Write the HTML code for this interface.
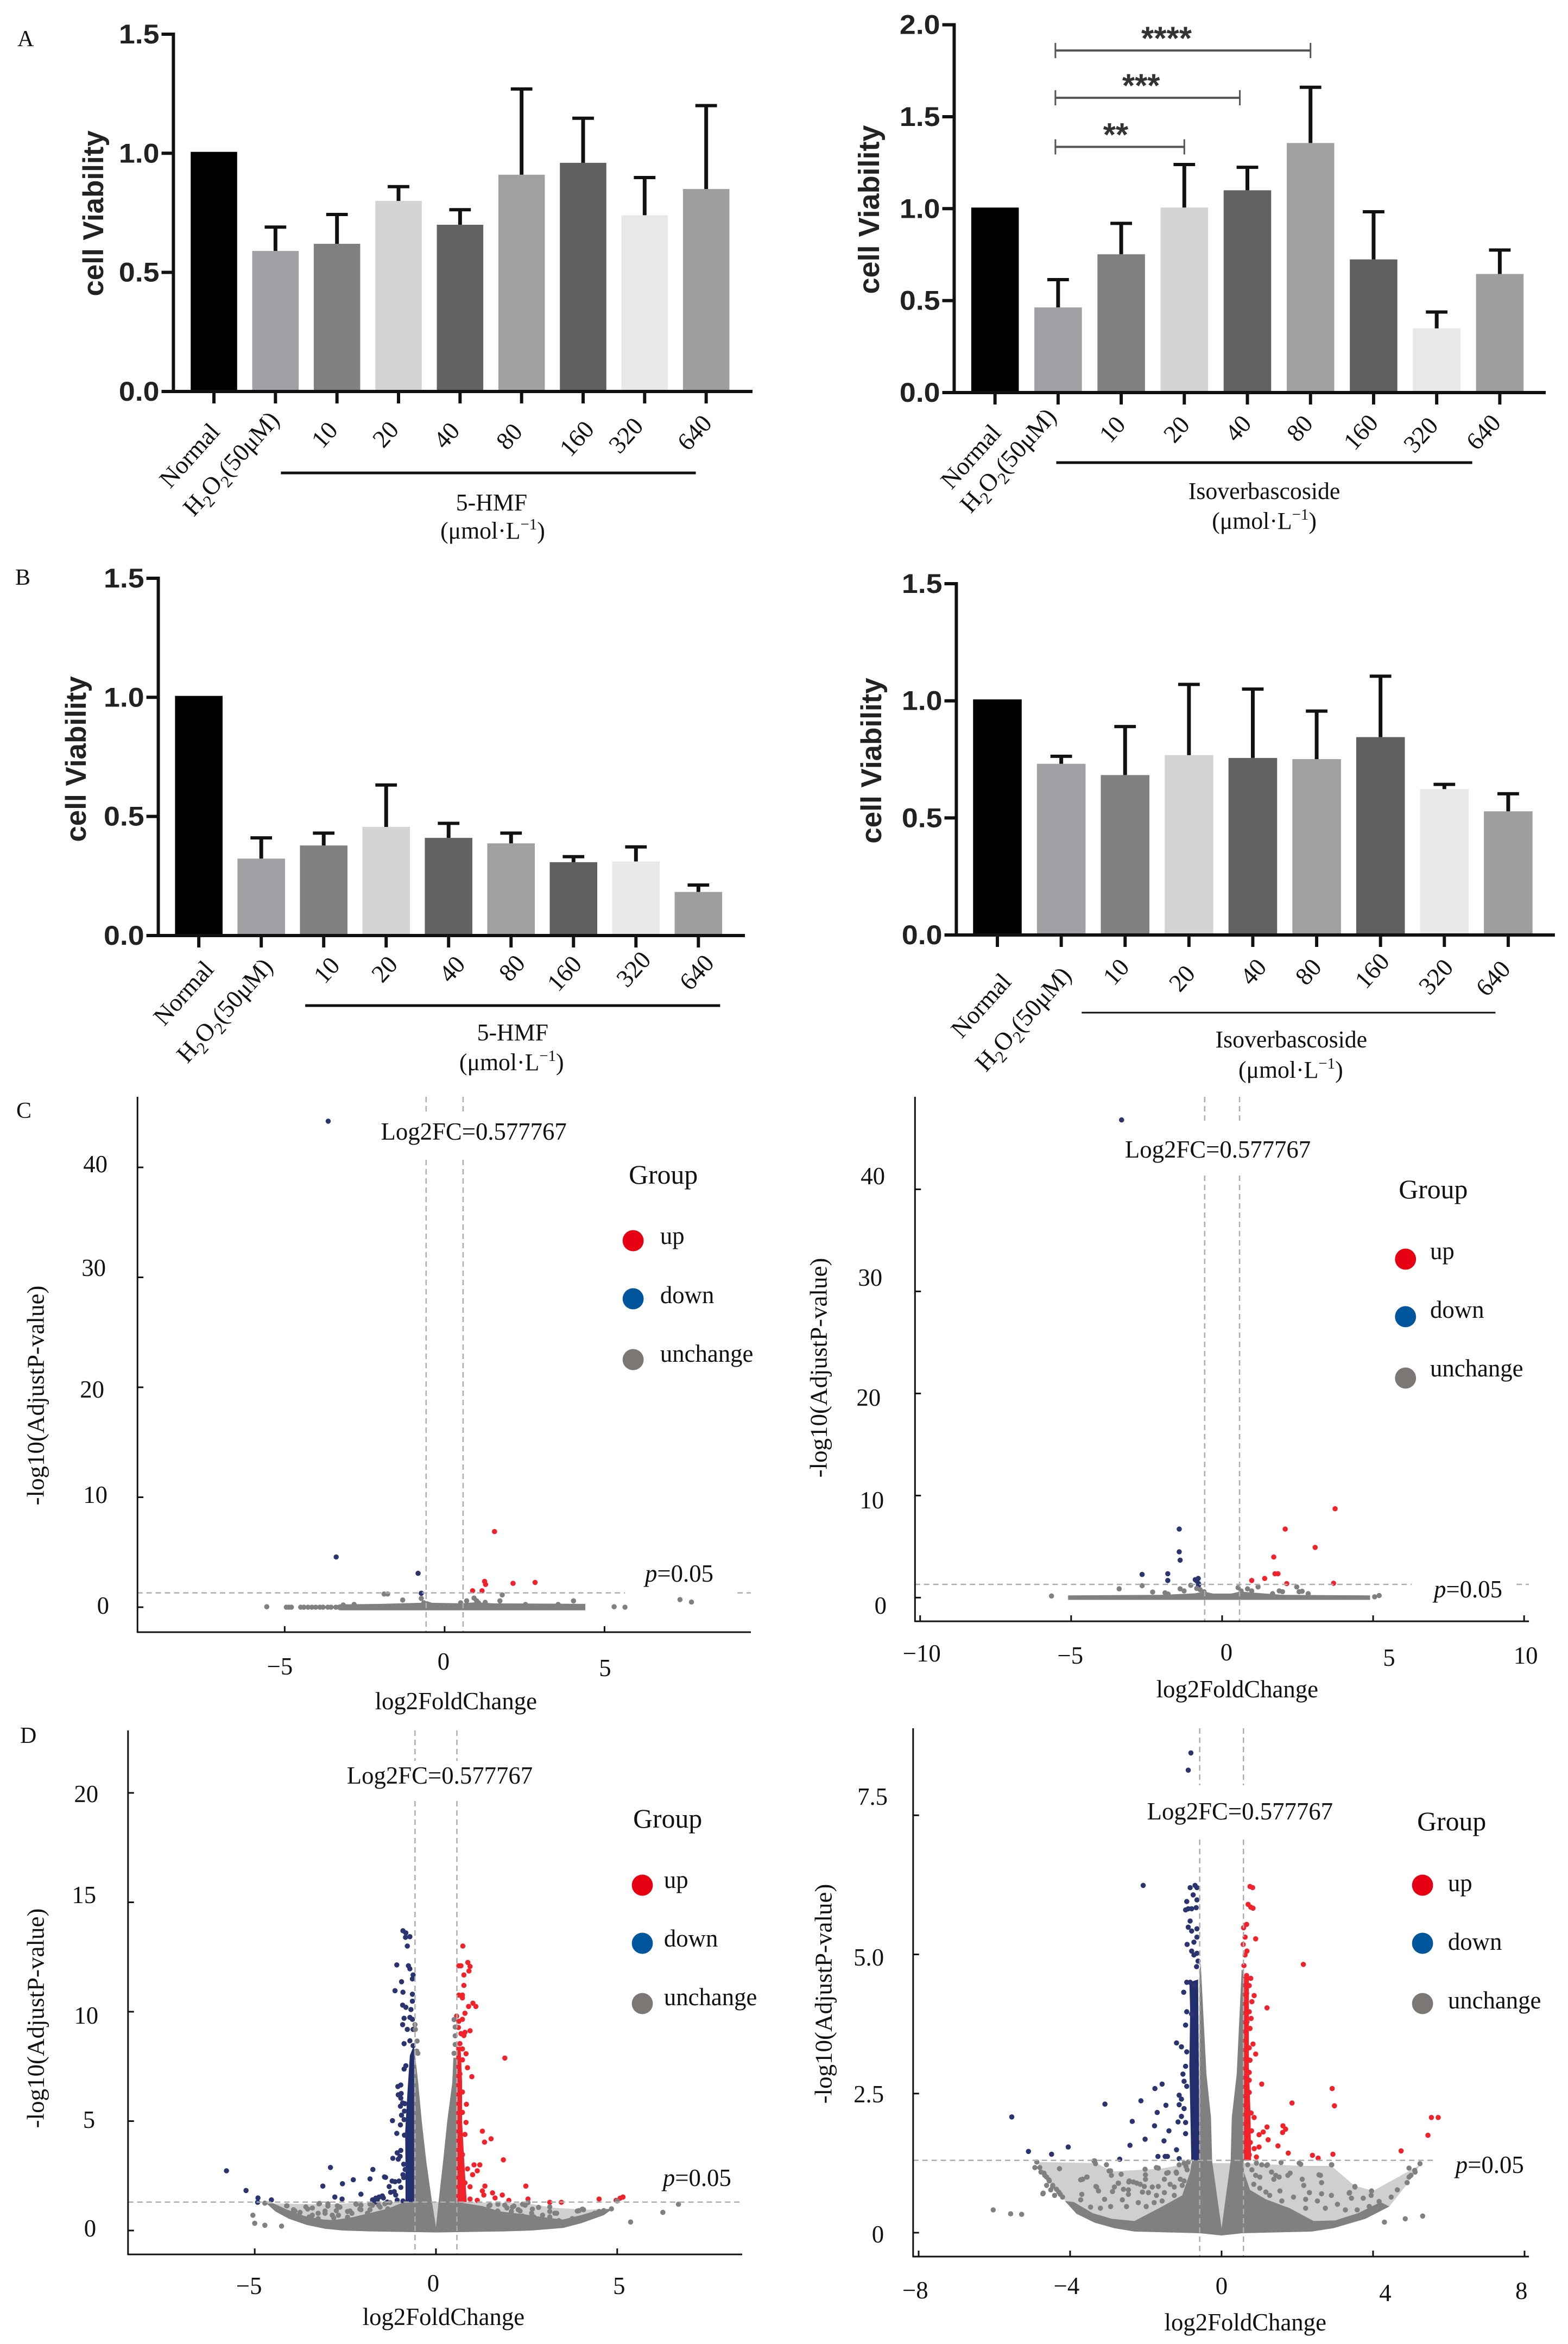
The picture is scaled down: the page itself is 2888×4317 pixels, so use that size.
<!DOCTYPE html>
<html lang="en">
<head>
<meta charset="utf-8">
<title>Cell viability bar charts and volcano plots</title>
<style>
html,body{margin:0;padding:0;background:#fff;}
svg{display:block;}
.serif{font-family:"Liberation Serif",serif;}
</style>
</head>
<body>
<svg id="fig" xmlns="http://www.w3.org/2000/svg" width="2888" height="4317" viewBox="0 0 2888 4317">
  <rect x="0" y="0" width="2888" height="4317" fill="#fff"></rect>
  <text class="serif" x="32" y="85" font-size="42" fill="#111">A</text>
  <text class="serif" x="28" y="1077" font-size="42" fill="#111">B</text>
  <text class="serif" x="30" y="2059" font-size="42" fill="#111">C</text>
  <text class="serif" x="37" y="3210" font-size="42" fill="#111">D</text>
  <g id="a1" transform="matrix(.995 0 0 1 0 0)"></g>
  <g id="a2" transform="matrix(.995 0 0 1 7.22 0)"></g>
  <g id="b1" transform="matrix(.995 0 0 1 0 0)"></g>
  <g id="b2" transform="matrix(.995 0 0 1 7.22 0)"></g>
  <g id="c1" transform="matrix(.995 0 0 1 0 0)"></g>
  <g id="c2" transform="matrix(.995 0 0 1 7.22 0)"></g>
  <g id="d1" transform="matrix(.995 0 0 1 0 0)"></g>
  <g id="d2" transform="matrix(.995 0 0 1 7.22 0)"></g>
</svg>
<script>
/* ---------- bar chart data ---------- */
const barCategories = ['Normal','H2O2(50μM)','10','20','40','80','160','320','640'];
const barYTicks15 = [0,0.5,1.0,1.5];
const barYTickLabels15 = ['0.0','0.5','1.0','1.5'];
const barYTicks20 = [0,0.5,1.0,1.5,2.0];
const barYTickLabels20 = ['0.0','0.5','1.0','1.5','2.0'];

const a1BarValues = [1.006,0.59,0.62,0.80,0.70,0.91,0.96,0.74,0.85];
const a1ErrorTops = [null,0.69,0.743,0.86,0.763,1.27,1.147,0.898,1.2];
const a2BarValues = [1.006,0.463,0.752,1.006,1.10,1.357,0.724,0.349,0.645];
const a2ErrorTops = [null,0.614,0.92,1.24,1.225,1.66,0.983,0.438,0.775];
const a2SigFrom = [1,1,1];
const a2SigTo = [3,3.88,5];
const a2SigLevels = [1.336,1.603,1.86];
const a2SigLabels = ['**','***','****'];
const b1BarValues = [1.006,0.323,0.378,0.456,0.41,0.387,0.308,0.311,0.183];
const b1ErrorTops = [null,0.41,0.43,0.632,0.471,0.43,0.331,0.372,0.212];
const b2BarValues = [1.006,0.731,0.683,0.768,0.756,0.751,0.845,0.623,0.528];
const b2ErrorTops = [null,0.763,0.89,1.07,1.05,0.956,1.105,0.643,0.603];

/* ---------- volcano data: [log2FC, -log10(adjP)] ---------- */
const log2fcThreshold = 0.577767;
const pThreshold = 1.3;

const c1XTicks = [-5,0,5];
const c1XTickLabels = ['−5','0','5'];
const c1YTicks = [0,10,20,30,40];
const c1YTickLabels = ['0','10','20','30','40'];
const c1Down = [[-3.64,44.2],[-3.39,4.57],[-0.83,3.08],[-0.73,1.27]];
const c1Up = [[1.56,6.88],[1.25,2.35],[1.28,2.07],[0.875,1.49],[1.17,1.49],[2.14,2.17],[2.83,2.25]];
const c1Unchanged = [[-5.56,0.04],[-4.95,0],[-4.87,0],[-4.79,0],[-4.5,0],[-4.4,0],[-4.27,0],[-4.15,0],[-4.03,0],[-3.9,0],[-3.8,0],[-3.65,0],[-3.55,0],[-3.4,0],[-3.3,0],[-3.17,0.2],[-2.83,0.25],[-1.89,1.2],[-1.78,1.2],[-1.31,0.65],[-0.73,0.8],[-0.65,0.4],[0.5,0.4],[0.69,0.58],[0.92,0.83],[1.0,0.58],[1.06,0.4],[1.27,0.44],[1.73,0.58],[1.8,1.12],[2.53,0.25],[3.55,0.25],[4.03,0.58],[5.3,0.04],[5.64,0],[7.36,0.69],[7.72,0.47]];
const c1Mass = [[-3.3,0.25],[-2,0.3],[-0.7,0.4],[-0.55,0.55],[-0.4,0.4],[0.5,0.35],[1,0.45],[1.5,0.35],[4.4,0.3],[4.4,-0.28],[-3.3,-0.28]];

const c2XTicks = [-10,-5,0,5,10];
const c2XTickLabels = ['−10','−5','0','5','10'];
const c2YTicks = [0,10,20,30,40];
const c2YTickLabels = ['0','10','20','30','40'];
const c2Down = [[-3.33,46.8],[-1.42,6.72],[-1.42,4.49],[-1.39,3.67],[-2.65,2.27],[-1.8,2.34],[-1.8,1.68],[-0.89,1.76],[-0.79,1.88],[-0.84,1.64],[-0.78,1.37],[-0.78,1.21]];
const c2Up = [[3.74,8.71],[2.09,6.72],[3.08,4.92],[1.71,3.98],[1.75,2.34],[1.85,2.34],[1.41,1.88],[0.98,1.68],[2.14,1.37],[3.69,1.41]];
const c2Unchanged = [[-5.65,0.16],[-3.41,0.86],[-2.65,1.17],[-2.3,0.55],[-1.89,0.47],[-1.79,0.35],[-1.39,0.86],[-1.26,0.66],[-1.04,1.21],[-0.84,0.9],[-0.73,0.78],[-0.6,0.58],[0.53,0.98],[0.63,0.66],[0.84,0.86],[0.98,0.66],[1.19,1.05],[1.67,0.39],[1.89,0.66],[2.0,0.58],[2.47,1.05],[2.55,0.58],[2.65,0.62],[2.85,0.39],[5.05,0.08],[5.2,0.2]];
const c2Mass = [[-5.1,0.22],[-2,0.27],[-0.9,0.42],[-0.6,0.6],[-0.3,0.4],[0.3,0.4],[0.6,0.6],[1,0.5],[2,0.27],[4.9,0.22],[4.9,-0.22],[-5.1,-0.22]];

const d1XTicks = [-5,0,5];
const d1XTickLabels = ['−5','0','5'];
const d1YTicks = [0,5,10,15,20];
const d1YTickLabels = ['0','5','10','15','20'];
const d1Down = [[-0.91,13.7],[-0.83,13.6],[-0.72,13.43],[-0.84,13.4],[-0.79,13.0],[-1.08,12.14],[-0.76,12.1],[-0.72,11.96],[-0.65,11.5],[-0.63,11.68],[-0.95,11.37],[-1.13,10.96],[-0.91,10.89],[-0.65,10.8],[-0.65,10.48],[-0.92,10.3],[-0.83,10.2],[-0.69,10.1],[-0.88,9.7],[-0.72,9.74],[-0.65,9.65],[-0.92,9.41],[-0.79,9.19],[-0.63,9.19],[-0.88,8.54],[-0.72,8.67],[-0.63,8.45],[-0.83,7.53],[-0.88,7.38],[-5.78,2.73],[-5.24,1.83],[-4.91,1.49],[-4.92,1.29],[-4.54,1.4],[-2.91,2.88],[-3.12,2.03],[-2.58,2.14],[-2.28,2.32],[-2.79,1.53],[-2.59,1.44],[-2.07,1.66],[-1.82,2.36],[-1.74,2.79],[-1.42,2.45],[-1.75,1.4],[-1.66,1.48],[-1.05,6.58],[-0.97,6.65],[-1.04,6.2],[-0.96,6.26],[-0.97,6.05],[-0.92,5.83],[-0.98,5.68],[-0.86,5.8],[-0.95,5.27],[-0.87,5.46],[-1.2,5.02],[-0.98,4.83],[-0.88,5.07],[-1.08,4.44],[-0.87,4.36],[-0.97,3.66],[-1.07,3.55],[-1.19,3.3],[-0.99,3.39],[-1.04,3.26],[-0.89,3.03],[-0.85,2.79],[-0.91,2.55],[-0.89,2.42],[-1.39,2.43],[-1.21,2.26],[-1.13,2.23],[-1.02,2.26],[-1.29,2.01],[-0.97,1.97],[-1.25,1.75],[-1.15,1.78],[-1.11,1.62],[-1.48,1.58],[-1.45,1.49],[-1.57,1.53],[-1.62,1.4],[-1.67,1.3],[-1.34,1.3],[-1.07,1.39],[-0.91,1.35]];
const d1DownDense = [[-0.6,1.3],[-0.84,1.3],[-0.84,3],[-0.85,4.5],[-0.78,6.5],[-0.72,8],[-0.6,8.5]];
const d1Up = [[0.74,13.0],[0.63,12.1],[0.69,12.1],[0.88,12.25],[0.94,12.07],[0.91,11.86],[0.77,11.68],[0.77,11.2],[0.63,10.76],[0.73,10.76],[0.73,10.63],[1.02,10.39],[1.1,10.24],[0.9,10.24],[0.8,9.93],[0.57,9.8],[0.73,9.65],[0.63,9.56],[0.62,9.28],[0.69,9.0],[0.8,9.06],[0.94,9.13],[0.77,8.91],[0.66,8.54],[0.73,8.3],[0.83,8.08],[1.9,7.88],[0.73,7.8],[0.63,7.62],[0.87,7.44],[0.66,7.16],[0.99,7.03],[0.59,6.7],[0.73,6.33],[0.63,5.96],[0.84,5.77],[0.73,5.4],[0.83,4.94],[1.28,4.54],[1.52,4.19],[1.34,4.04],[0.8,4.39],[1.86,3.23],[0.73,3.47],[1.21,3.0],[1.05,3.0],[1.14,2.73],[0.87,2.82],[1.01,2.55],[1.35,2.03],[1.28,1.81],[1.32,1.62],[2.48,2.03],[1.83,1.62],[1.63,1.49],[2.01,1.38],[1.56,1.72],[2.54,1.44],[3.14,1.29],[3.46,1.29],[4.5,1.44],[4.97,1.38],[5.08,1.48],[5.16,1.53],[1.14,1.38],[0.94,1.44],[0.94,2.0],[0.8,2.18]];
const d1UpDense = [[0.56,1.3],[0.85,1.3],[0.78,3.2],[0.72,5],[0.72,6.8],[0.68,8.4],[0.56,8.4]];
const d1Unchanged = [[-4.72,1.25],[-5.05,0.7],[-5.0,0.33],[-4.72,0.24],[-4.26,0.2],[-4.12,1.13],[-3.89,0.89],[-3.54,0.98],[-3.23,1.22],[-3.41,0.7],[-3.06,0.89],[-2.86,0.7],[-2.65,1.07],[-2.44,0.61],[-2.21,1.22],[-2.1,0.98],[-1.89,0.79],[-1.75,1.16],[-1.54,1.07],[-1.41,1.22],[-2.37,0.89],[5.0,1.35],[3.9,0.89],[4.04,0.98],[3.28,0.79],[2.94,0.7],[2.66,0.98],[2.46,1.16],[2.32,0.89],[2.11,1.07],[1.9,1.16],[1.7,0.89],[1.49,1.16],[6.69,1.2],[6.26,0.83],[5.37,0.39],[-0.58,9.41],[-0.57,9.19],[-0.52,8.66],[0.5,9.64],[0.53,9.3],[0.53,8.9],[0.53,8.5],[0.5,8.1],[-0.53,8.2],[-0.5,8.1],[-4.11,1.13],[-3.59,1.08],[-3.41,1.03],[-3.21,1.24],[-2.98,1.22],[-2.72,1.13],[-2.98,1.12],[-3.93,0.95],[-3.75,0.83],[-3.25,0.79],[-3.06,0.79],[-2.75,0.91],[-2.44,0.87],[-2.2,1.2],[-2.07,1.16],[-2.07,0.95],[-1.82,1.2],[-1.58,1.16],[-1.27,1.28],[-1.82,0.95],[-1.33,0.99],[-3.5,0.62],[-3.25,0.54],[-2.69,0.7],[-2.82,0.58],[-2.32,0.79],[1.46,1.12],[1.71,1.2],[1.96,1.03],[2.15,1.12],[2.39,1.2],[2.54,1.28],[2.27,0.95],[2.83,1.06],[3.14,1.08],[3.14,0.87],[2.64,0.79],[3.33,0.79],[3.95,0.91],[4.07,0.95],[4.5,0.87],[4.63,0.91],[4.84,0.99],[2.7,0.62],[3.14,0.62],[2.08,0.87],[1.71,0.87],[3.76,0.54],[3.39,0.45],[4.26,0.66],[4.38,0.79],[2.83,0.37],[2.39,0.66]];
const d1Mass = [[-0.6,8.4],[-0.49,6.76],[-0.39,4.98],[-0.27,3.2],[-0.12,1.44],[0,0.16],[0.08,1.44],[0.2,3.2],[0.31,4.98],[0.45,6.76],[0.48,7.9],[0.56,7.9],[0.56,1.3],[0.66,1.28],[1.28,1.12],[1.77,0.87],[2.39,0.75],[3.0,0.6],[3.5,0.5],[4.0,0.7],[4.5,0.95],[4.88,1.0],[4.63,0.7],[4.0,0.33],[3.51,0.12],[2.64,0],[1.9,-0.04],[0,-0.09],[-1.82,-0.04],[-2.57,0],[-3.06,0.08],[-3.56,0.25],[-4.06,0.54],[-4.43,0.87],[-4.68,1.24],[-4.5,1.25],[-4.1,0.95],[-3.6,0.65],[-3.1,0.5],[-2.82,0.48],[-2.32,0.6],[-1.82,0.8],[-1.33,1.0],[-0.96,1.25],[-0.6,1.3]];
const d1ScatterEnvelope = [[-4.68,1.24],[-3.2,1.2],[-1.2,1.3],[-0.6,1.3],[0.6,1.3],[2.5,1.25],[3.2,1.05],[4.1,0.95],[4.88,1.0],[4.0,0.33],[2.64,0],[-2.57,0],[-4.06,0.54]];

const d2XTicks = [-8,-4,0,4,8];
const d2XTickLabels = ['−8','−4','0','4','8'];
const d2YTicks = [0,2.5,5,7.5];
const d2YTickLabels = ['0','2.5','5.0','7.5'];
const d2Down = [[-0.81,8.62],[-0.88,8.31],[-2.07,6.24],[-0.7,6.24],[-0.83,6.2],[-0.65,6.2],[-0.75,6.07],[-0.65,5.98],[-0.92,5.95],[-0.88,5.82],[-0.95,5.8],[-0.79,5.82],[-0.67,5.84],[-0.83,5.6],[-0.88,5.49],[-0.65,5.46],[-0.79,5.42],[-0.65,5.31],[-0.73,5.22],[-0.91,5.18],[-0.79,5.06],[-0.65,5.02],[-0.73,4.99],[-0.62,4.88],[-0.66,4.78],[-0.83,4.5],[-0.72,4.44],[-1.0,4.32],[-0.92,4.5],[-0.92,3.97],[-0.79,3.93],[-0.95,3.73],[-1.19,3.41],[-1.06,3.34],[-0.92,3.25],[-0.95,2.99],[-1.02,2.85],[-0.99,2.72],[-0.92,2.63],[-1.12,2.47],[-1.06,2.4],[-1.12,2.3],[-0.99,2.23],[-1.06,2.09],[-1.15,1.99],[-0.95,1.98],[-0.95,1.78],[-1.19,1.49],[-1.12,1.33],[-5.54,2.08],[-5.1,1.46],[-4.49,1.41],[-4.05,1.54],[-3.08,2.31],[-2.13,2.37],[-1.76,2.59],[-1.57,2.67],[-1.47,2.29],[-1.7,2.16],[-2.36,2.0],[-1.77,1.92],[-1.39,1.83],[-1.52,1.65],[-2.02,1.68],[-2.42,1.57],[-2.69,1.32],[-1.68,1.37],[-1.49,1.37],[-1.43,1.37]];
const d2DownDense = [[-0.58,1.3],[-0.8,1.3],[-0.82,2],[-0.85,3],[-0.83,4],[-0.85,4.5],[-0.62,4.55]];
const d2Up = [[0.75,6.22],[0.82,6.2],[0.7,5.9],[0.77,5.85],[0.83,5.83],[0.66,5.54],[0.58,5.48],[0.9,5.28],[0.62,5.31],[0.57,5.18],[0.67,5.06],[0.62,4.99],[2.16,4.82],[0.59,4.8],[0.66,4.62],[0.77,4.57],[0.73,4.44],[0.66,4.3],[0.86,4.26],[1.2,4.04],[0.73,3.97],[0.67,3.79],[0.75,3.67],[0.59,3.57],[0.83,3.39],[0.73,3.32],[0.9,3.21],[0.66,3.14],[0.73,2.88],[1.06,2.67],[0.73,2.74],[2.92,2.59],[1.86,2.33],[2.98,2.28],[0.73,2.52],[0.66,2.38],[0.86,2.07],[5.54,2.07],[5.72,2.07],[5.45,1.75],[4.74,1.47],[2.4,1.39],[2.55,1.34],[2.94,1.41],[1.76,1.43],[1.49,1.56],[1.2,1.9],[1.62,1.92],[1.69,1.86],[1.61,1.8],[1.1,1.81],[0.99,1.76],[0.79,1.83],[1.23,1.67],[0.99,1.54],[0.86,1.51],[0.73,1.4],[0.92,1.36],[0.78,2.15],[0.7,1.95],[0.76,1.62],[0.75,3.1],[0.78,3.85],[0.8,4.15]];
const d2UpDense = [[0.58,1.3],[0.78,1.3],[0.76,2.2],[0.72,3],[0.72,4.6],[0.58,4.6]];
const d2Unchanged = [[-4.88,1.27],[-4.8,1.17],[-4.69,1.07],[-4.62,1.0],[-4.55,0.93],[-4.46,0.85],[-4.36,0.78],[-4.26,0.69],[-6.03,0.41],[-5.57,0.34],[-5.28,0.33],[-3.37,1.29],[-3.67,0.96],[-3.55,1.0],[-4.71,0.71],[-2.97,1.11],[-3.3,0.82],[-2.73,0.89],[-2.44,0.93],[-2.24,0.89],[-2.02,1.14],[-1.72,1.17],[-1.45,1.07],[-1.19,1.07],[-1.12,1.22],[-0.99,1.25],[-0.88,1.27],[5.24,1.24],[5.1,1.12],[4.95,1.0],[3.52,0.82],[3.37,0.71],[2.9,1.22],[2.57,1.04],[2.05,1.25],[1.81,1.07],[1.52,1.0],[1.21,1.22],[0.92,1.25],[-3.35,1.29],[-3.33,1.24],[-3.04,1.22],[-4.28,1.15],[-4.93,1.17],[-4.77,1.09],[-4.67,1.03],[-4.56,0.95],[-4.62,0.85],[-4.46,0.83],[-4.51,0.77],[-4.3,0.73],[-4.72,0.7],[-4.41,0.67],[-4.2,0.64],[-3.72,0.95],[-3.56,1.0],[-3.32,0.83],[-3.25,0.75],[-3.69,0.69],[-3.72,0.59],[-2.93,1.11],[-2.91,1.03],[-2.65,1.05],[-2.72,0.89],[-2.83,0.82],[-2.59,0.78],[-2.46,0.77],[-2.88,0.74],[-2.46,0.69],[-3.09,0.6],[-2.62,0.59],[-2.93,0.47],[-2.51,0.47],[-3.2,0.44],[-3.46,0.46],[-1.67,1.16],[-2.01,1.04],[-2.01,0.96],[-2.45,0.91],[-2.33,0.91],[-2.15,0.87],[-2.04,0.83],[-1.83,0.82],[-1.67,0.83],[-1.51,0.96],[-1.41,1.08],[-1.2,1.09],[-0.94,1.19],[-0.91,1.13],[-1.09,0.96],[-0.99,0.93],[-1.36,0.87],[-1.25,0.82],[-1.04,0.85],[-2.09,0.73],[-1.93,0.72],[-1.72,0.67],[-1.51,0.72],[-1.25,0.67],[-1.57,0.57],[-1.78,0.54],[-2.2,0.54],[-1.99,0.47],[0.69,1.22],[0.8,1.13],[0.9,1.03],[1.06,1.22],[1.19,1.21],[1.57,1.26],[2.09,1.23],[2.91,1.22],[1.32,1.09],[1.43,1.03],[1.75,1.03],[1.38,0.96],[1.01,1.0],[2.13,0.96],[2.61,1.03],[2.64,0.9],[2.17,0.85],[3.52,0.83],[3.96,0.75],[3.38,0.72],[3.95,0.67],[3.43,0.62],[3.74,0.62],[2.32,0.72],[2.64,0.7],[2.9,0.67],[1.54,0.75],[1.17,0.73],[0.85,0.87],[1.01,0.8],[1.27,0.67],[1.9,0.64],[2.22,0.6],[2.53,0.57],[3.06,0.51],[3.27,0.41],[3.58,0.41],[3.9,0.47],[4.16,0.56],[4.48,0.64],[4.64,0.77],[4.9,0.9],[5.0,1.03],[5.11,1.09],[4.95,1.16],[1.59,0.57],[2.74,0.44],[2.22,0.44],[4.3,0.19],[4.85,0.25],[5.31,0.3]];
const d2Mass = [[-0.55,4.84],[-0.4,2.85],[-0.28,2.07],[-0.25,1.29],[0,0.08],[0.24,1.29],[0.27,2.07],[0.4,2.85],[0.53,4.73],[0.58,4.7],[0.58,1.3],[0.59,1.09],[0.75,0.77],[1.17,0.6],[1.8,0.44],[2.43,0.21],[3.0,0.22],[3.6,0.35],[4.2,0.55],[4.43,0.47],[3.8,0.25],[2.95,0.08],[2.38,0.02],[0.54,-0.01],[0,-0.05],[-0.57,-0.01],[-2.3,0.02],[-2.83,0.08],[-3.35,0.18],[-3.83,0.34],[-4.14,0.57],[-3.9,0.55],[-3.4,0.35],[-2.9,0.25],[-2.3,0.21],[-1.57,0.47],[-1.04,0.67],[-0.83,1.09],[-0.78,1.3],[-0.58,1.3],[-0.58,4.7]];
const d2ScatterEnvelope = [[-4.88,1.27],[-3.3,1.25],[-2.9,1.1],[-1.6,1.15],[-0.83,1.25],[0.6,1.25],[2.1,1.2],[2.9,1.2],[3.5,0.85],[4.0,0.75],[5.25,1.22],[4.85,0.83],[4.43,0.47],[3.8,0.25],[2.95,0.08],[-2.83,0.08],[-3.83,0.34],[-4.41,0.8]];

/* ---------- helpers ---------- */
const NS = 'http://www.w3.org/2000/svg';
const SERIF = '"Liberation Serif", serif';
const SANS = '"Liberation Sans", sans-serif';
function svgEl(tag, attrs, parent) {
  const el = document.createElementNS(NS, tag);
  for (const k in attrs) el.setAttribute(k, attrs[k]);
  parent.appendChild(el);
  return el;
}
function addText(parent, name, segments, x, y, o) {
  const el = svgEl('text', {
    transform: 'translate(' + x + ' ' + y + ') rotate(' + (o.rot || 0) + ') scale(' + (o.sx || 1) + ' 1)',
    'font-family': o.family || SERIF,
    'font-size': o.size || 45,
    'font-weight': o.weight || 'normal',
    'text-anchor': o.anchor || 'start',
    fill: o.fill || '#111'
  }, parent);
  
  
  const parts = typeof segments === 'string' ? [{t: segments}] : segments;
  let pending = 0;
  parts.forEach(function (p) {
    const ts = svgEl('tspan', {}, el);
    ts.textContent = p.t;
    if (p.style) ts.setAttribute('font-style', p.style);
    if (p.shift) ts.setAttribute('font-size', p.small);
    const dy = pending + (p.shift || 0);
    if (dy) ts.setAttribute('dy', dy);
    pending = -(p.shift || 0);
  });
  return el;
}
function hLine(g, name, x1, x2, y, w, col) {
  const l = svgEl('line', {x1: x1, x2: x2, y1: y, y2: y, stroke: col || '#111', 'stroke-width': w}, g);
  
  
  return l;
}
function vLine(g, name, x, y1, y2, w, col) {
  const l = svgEl('line', {x1: x, x2: x, y1: y1, y2: y2, stroke: col || '#111', 'stroke-width': w}, g);
  
  
  return l;
}
const h2o2Segments = [{t:'H'},{t:'2',shift:11,small:31},{t:'O'},{t:'2',shift:11,small:31},{t:'(50μM)'}];
const unitSegments = [{t:'(μmol·L'},{t:'−1',shift:-17,small:29},{t:')'}];
const barColors = ['#000000','#a0a0a5','#808080','#d3d3d3','#636363','#a0a0a3','#606060','#e8e8e8','#9e9e9e'];

/* ---------- bar chart ---------- */
function drawBarChart(id, categories, values, errorTops, yTicks, yTickLabels, L) {
  const g = document.getElementById(id);
  const xScale = function (i) { return L.firstTick + i * L.step; };
  const yScale = function (v) { return L.zeroY - v * L.pxPerUnit; };
  values.forEach(function (v, i) {
    const bar = svgEl('rect', {x: xScale(i) - L.barW / 2, y: yScale(v), width: L.barW, height: L.zeroY - yScale(v), fill: barColors[i]}, g);
    
    
    if (errorTops[i] !== null) {
      vLine(g, 'error-bar', xScale(i), yScale(v), yScale(errorTops[i]), 7);
      hLine(g, 'error-cap', xScale(i) - 20, xScale(i) + 20, yScale(errorTops[i]), 6);
    }
    vLine(g, 'x-tick', xScale(i), L.zeroY, L.zeroY + 22, 6);
    const seg = categories[i] === 'H2O2(50μM)' ? h2o2Segments : categories[i];
    addText(g, 'x-tick-label', seg, L.labelX[i] + 10, L.labelY[i] + 9, {rot: -48, size: 46, anchor: 'middle'});
  });
  vLine(g, 'y-axis', L.axisX, yScale(yTicks[yTicks.length - 1]) - 3, L.zeroY + 3, 6);
  hLine(g, 'x-axis', L.xStart, L.xEnd, L.zeroY, 6);
  yTicks.forEach(function (t, i) {
    hLine(g, 'y-tick', L.axisX - 22, L.axisX, yScale(t), 6);
    addText(g, 'y-tick-label', yTickLabels[i], L.axisX - 26, yScale(t) + 17, {family: SANS, weight: 'bold', size: 50, sx: 1.08, anchor: 'end', fill: '#222'});
  });
  addText(g, 'y-axis-title', 'cell Viability', L.ylabelX, L.ylabelY, {family: SANS, weight: 'bold', size: L.ylabelSize, rot: -90, anchor: 'middle', fill: '#222'});
  hLine(g, 'treatment-group-line', L.lineX1, L.lineX2, L.lineY, L.lineW || 5);
  addText(g, 'treatment-name', L.group, L.groupX, L.groupY, {size: 44, anchor: 'middle'});
  addText(g, 'concentration-unit', unitSegments, L.unitX, L.unitY, {size: 44, anchor: 'middle'});
  return {xScale: xScale, yScale: yScale, g: g};
}

/* ---------- volcano ---------- */
function pointsAttr(poly, xs, ys) {
  return poly.map(function (p) { return xs(p[0]).toFixed(1) + ',' + ys(p[1]).toFixed(1); }).join(' ');
}
function drawVolcano(id, D, L) {
  const g = document.getElementById(id);
  const xs = function (v) { return L.x0 + v * L.xUnit; };
  const ys = function (v) { return L.y0 - v * L.yUnit; };
  function dense(poly, col, name) {
    const p = svgEl('polygon', {points: pointsAttr(poly, xs, ys), fill: col}, g);
    
    
    return p;
  }
  function dots(list, col, name) {
    list.forEach(function (d) {
      const c = svgEl('circle', {cx: xs(d[0]).toFixed(1), cy: ys(d[1]).toFixed(1), r: 4.8, fill: col}, g);
      
      
    });
  }
  if (D.scatterEnvelope) {
    const halo = dense(D.scatterEnvelope, '#808080', 'unchanged-scatter-cloud');
    halo.setAttribute('fill-opacity', '0.38');
  }
  if (D.downDense) dense(D.downDense, '#232e6e', 'down-dense-points');
  if (D.upDense) dense(D.upDense, '#f2222b', 'up-dense-points');
  dots(D.down, '#2a356f', 'down-point');
  dots(D.up, '#f2222b', 'up-point');
  dots(D.unchanged, '#808080', 'unchanged-point');
  dense(D.mass, '#808080', 'unchanged-dense-points');
  /* threshold lines */
  [-log2fcThreshold, log2fcThreshold].forEach(function (t) {
    L.vSegs.forEach(function (s) {
      const l = vLine(g, 'fold-change-threshold-line', xs(t), s[0], s[1], 2.5, '#adadad');
      l.setAttribute('stroke-dasharray', '10 7');
    });
  });
  L.hSegs.forEach(function (s) {
    const l = hLine(g, 'p-value-threshold-line', s[0], s[1], ys(pThreshold), 2.5, '#adadad');
    l.setAttribute('stroke-dasharray', '10 7');
  });
  /* axes */
  vLine(g, 'y-axis', L.axisX, L.axisTop, L.axisY + 1, 3);
  hLine(g, 'x-axis', L.axisX - 1, L.axisEnd, L.axisY, 3);
  D.xTicks.forEach(function (t, i) {
    vLine(g, 'x-tick', xs(t), L.axisY - 11, L.axisY, 3);
    addText(g, 'x-tick-label', D.xTickLabels[i], L.xLabelX[i], L.xLabelY[i], {size: 45, anchor: 'middle'});
  });
  D.yTicks.forEach(function (t, i) {
    hLine(g, 'y-tick', L.axisX, L.axisX + 11, ys(t), 3);
    addText(g, 'y-tick-label', D.yTickLabels[i], L.yLabelX[i], L.yLabelY[i], {size: 45, anchor: 'end'});
  });
  addText(g, 'x-axis-title', 'log2FoldChange', L.xTitle[0], L.xTitle[1], {size: 45, anchor: 'middle'});
  addText(g, 'y-axis-title', '-log10(AdjustP-value)', L.yTitle[0], L.yTitle[1], {size: 45, rot: -90, anchor: 'middle'});
  addText(g, 'fold-change-annotation', 'Log2FC=0.577767', L.fc[0], L.fc[1], {size: 45});
  addText(g, 'p-value-annotation', [{t: 'p', style: 'italic'}, {t: '=0.05'}], L.p[0], L.p[1], {size: 45});
  addText(g, 'legend-title', 'Group', L.group[0], L.group[1], {size: 50});
  const names = ['up', 'down', 'unchange'];
  const cols = ['#e60012', '#00569d', '#7b7774'];
  names.forEach(function (n, i) {
    const d = svgEl('circle', {cx: L.dotX, cy: L.dotY[i], r: 19.5, fill: cols[i]}, g);
    
    
    addText(g, 'legend-label-' + n, n, L.legX, L.legY[i], {size: 45});
  });
}

/* ---------- draw ---------- */
drawBarChart('a1', barCategories, a1BarValues, a1ErrorTops, barYTicks15, barYTickLabels15, {
  axisX: 321, zeroY: 721, pxPerUnit: 438.7, firstTick: 396, step: 113.9, barW: 86, xStart: 301, xEnd: 1393,
  labelX: [352,429,602,715,828,944,1069,1160,1287], labelY: [840,855,802,801,803,805,809,803,798],
  ylabelX: 191, ylabelY: 393, ylabelSize: 53,
  lineX1: 520, lineX2: 1288, lineY: 871, group: '5-HMF', groupX: 910, groupY: 940, unitX: 912, unitY: 992
});
const a2Chart = drawBarChart('a2', barCategories, a2BarValues, a2ErrorTops, barYTicks20, barYTickLabels20, {
  axisX: 1759, zeroY: 723, pxPerUnit: 338.7, firstTick: 1834.6, step: 116.8, barW: 88, xStart: 1738, xEnd: 2854,
  labelX: [1791,1860,2053,2172,2286,2400,2513,2624,2740], labelY: [842,849,792,792,790,790,797,802,797],
  ylabelX: 1620, ylabelY: 386, ylabelSize: 54,
  lineX1: 1948, lineX2: 2718, lineY: 852, group: 'Isoverbascoside', groupX: 2333, groupY: 919, unitX: 2333, unitY: 974
});
const a2StarCenters = [2058,2105,2152];
a2SigLevels.forEach(function (lvl, i) {
  const g = a2Chart.g;
  const x1 = a2Chart.xScale(a2SigFrom[i]) - 5;
  const x2 = a2Chart.xScale(a2SigTo[i]);
  const y = a2Chart.yScale(lvl);
  hLine(g, 'significance-bracket', x1, x2, y, 4, '#555');
  vLine(g, 'significance-bracket-end', x1, y - 14, y + 14, 3, '#555');
  vLine(g, 'significance-bracket-end', x2, y - 14, y + 14, 3, '#555');
  addText(g, 'significance-stars', a2SigLabels[i], a2StarCenters[i], y - 2, {family: SANS, weight: 'bold', size: 60, anchor: 'middle', fill: '#333'});
});
drawBarChart('b1', barCategories, b1BarValues, b1ErrorTops, barYTicks15, barYTickLabels15, {
  axisX: 293, zeroY: 1723, pxPerUnit: 438.7, firstTick: 368, step: 115.6, barW: 88, xStart: 273, xEnd: 1379,
  labelX: [341,417,606,713,838,949,1046,1174,1291], labelY: [1830,1862,1788,1786,1786,1784,1794,1786,1792],
  ylabelX: 159, ylabelY: 1398, ylabelSize: 53,
  lineX1: 565, lineX2: 1333, lineY: 1852, group: '5-HMF', groupX: 949, groupY: 1916, unitX: 947, unitY: 1971
});
drawBarChart('b2', barCategories, b2BarValues, b2ErrorTops, barYTicks15, barYTickLabels15, {
  axisX: 1763, zeroY: 1722, pxPerUnit: 431.3, firstTick: 1839, step: 118.2, barW: 90, xStart: 1742, xEnd: 2871,
  labelX: [1810,1888,2060,2182,2314,2416,2534,2652,2758], labelY: [1853,1878,1791,1803,1791,1791,1789,1800,1803],
  ylabelX: 1624, ylabelY: 1401, ylabelSize: 53,
  lineX1: 1995, lineX2: 2761, lineY: 1865, lineW: 3, group: 'Isoverbascoside', groupX: 2383, groupY: 1929, unitX: 2382, unitY: 1985
});
drawVolcano('c1', {xTicks: c1XTicks, xTickLabels: c1XTickLabels, yTicks: c1YTicks, yTickLabels: c1YTickLabels, down: c1Down, up: c1Up, unchanged: c1Unchanged, mass: c1Mass}, {
  x0: 823, xUnit: 59.2, y0: 2960, yUnit: 20.25, axisX: 254.5, axisTop: 2020, axisY: 3006, axisEnd: 1390,
  vSegs: [[2020,2048],[2136,3006]], hSegs: [[254,1157],[1365,1390]],
  xLabelX: [518,821,1120], xLabelY: [3084,3075,3087],
  yLabelX: [202,199,193,196,199], yLabelY: [2972,2768,2574,2350,2159],
  xTitle: [844,3148], yTitle: [81,2570], fc: [705,2099], p: [1194,2913], group: [1164,2180],
  dotX: 1172, dotY: [2285,2392,2504], legX: 1222, legY: [2291,2400,2508]
});
drawVolcano('c2', {xTicks: c2XTicks, xTickLabels: c2XTickLabels, yTicks: c2YTicks, yTickLabels: c2YTickLabels, down: c2Down, up: c2Up, unchanged: c2Unchanged, mass: c2Mass}, {
  x0: 2255, xUnit: 55.9, y0: 2942.4, yUnit: 18.8, axisX: 1686.5, axisTop: 2020, axisY: 2986, axisEnd: 2823,
  vSegs: [[2020,2067],[2165,2986]], hSegs: [[1686,2606],[2800,2823]],
  xLabelX: [1699,1974,2263,2564,2817], xLabelY: [3060,3064,3058,3068,3064],
  yLabelX: [1634,1629,1623,1626,1631], yLabelY: [2972,2778,2589,2368,2181],
  xTitle: [2283,3126], yTitle: [1523,2519], fc: [2075,2132], p: [2647,2942], group: [2582,2207],
  dotX: 2594.5, dotY: [2319,2425,2538], legX: 2640, legY: [2319,2427,2535]
});
drawVolcano('d1', {xTicks: d1XTicks, xTickLabels: d1XTickLabels, yTicks: d1YTicks, yTickLabels: d1YTickLabels, down: d1Down, downDense: d1DownDense, up: d1Up, upDense: d1UpDense, unchanged: d1Unchanged, mass: d1Mass, scatterEnvelope: d1ScatterEnvelope}, {
  x0: 807, xUnit: 67.1, y0: 4108, yUnit: 40.3, axisX: 237, axisTop: 3187, axisY: 4152, axisEnd: 1374,
  vSegs: [[3187,3243],[3317,4152]], hSegs: [[237,1374]],
  xLabelX: [461,802,1146], xLabelY: [4225,4220,4225],
  yLabelX: [178,176,182,178,182], yLabelY: [4119,3919,3727,3505,3319],
  xTitle: [821,4282], yTitle: [81,3717], fc: [642,3285], p: [1227,4026], group: [1172,3366],
  dotX: 1189, dotY: [3472,3579,3690], legX: 1229, legY: [3477,3585,3693]
});
drawVolcano('d2', {xTicks: d2XTicks, xTickLabels: d2XTickLabels, yTicks: d2YTicks, yTickLabels: d2YTickLabels, down: d2Down, downDense: d2DownDense, up: d2Up, upDense: d2UpDense, unchanged: d2Unchanged, mass: d2Mass, scatterEnvelope: d2ScatterEnvelope}, {
  x0: 2254, xUnit: 70.1, y0: 4112, yUnit: 102.5, axisX: 1683, axisTop: 3183, axisY: 4156, axisEnd: 2823,
  vSegs: [[3183,3288],[3388,4156]], hSegs: [[1683,2647]],
  xLabelX: [1687,1967,2254,2557,2809], xLabelY: [4233,4225,4225,4238,4234],
  yLabelX: [1629,1629,1629,1636], yLabelY: [4130,3872,3620,3324],
  xTitle: [2298,4292], yTitle: [1532,3672], fc: [2116,3351], p: [2687,4002], group: [2616,3371],
  dotX: 2626, dotY: [3472,3579,3690], legX: 2673, legY: [3483,3591,3699]
});
</script>
</body>
</html>
